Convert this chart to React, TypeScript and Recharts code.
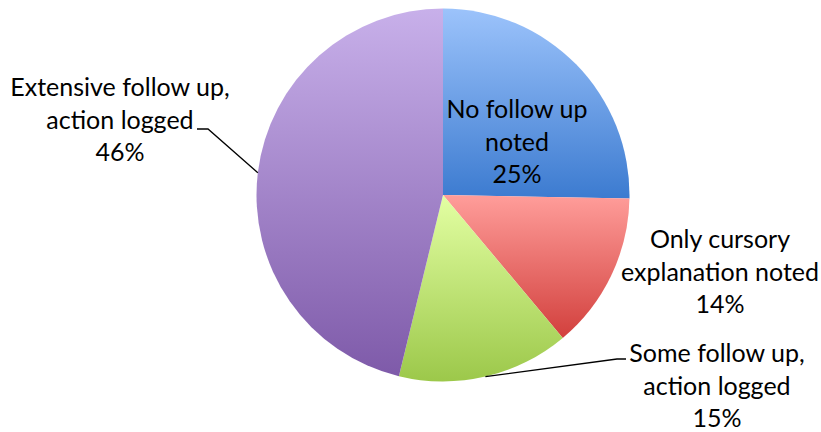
import React from "react";
import { PieChart, Pie, Cell } from "recharts";

// slice shares (labels show rounded percents)
const categories = [
    ["No follow up", "noted"],
    ["Only cursory", "explanation noted"],
    ["Some follow up,", "action logged"],
    ["Extensive follow up,", "action logged"],
];
const shares = [25.3, 13.6, 14.9, 46.2];
const percentLabels = ["25%", "14%", "15%", "46%"];

const gradients = [
    ["#9cc3fb", "#3c7bd0"],
    ["#ff9d9a", "#d2403d"],
    ["#e3ffa3", "#9cc84a"],
    ["#c8b0ea", "#7e5aa9"],
];

// label placement, relative to the pie centre: first baseline offset, optional leader elbow
const labelLayout = [
    { dx: 74, dy: -77, line: null },
    { dx: 277, dy: 53, line: null },
    { dx: 274, dy: 167, line: { ex: 174, ey: 164, tx: 183 } },
    { dx: -323, dy: -99, line: { ex: -235, ey: -66, tx: -246 } },
];

const data = shares.map((v, i) => ({ name: categories[i].join(" "), value: v }));

const RAD = Math.PI / 180;
const LINE_H = 32.5;

function renderLabel(props: any) {
    const { cx, cy, midAngle, outerRadius, index } = props;
    const lay = labelLayout[index];
    const x = cx + lay.dx;
    const y = cy + lay.dy;
    const lines = [...categories[index], percentLabels[index]];
    let leader = null;
    if (lay.line) {
        const sx = cx + outerRadius * Math.cos(-midAngle * RAD);
        const sy = cy + outerRadius * Math.sin(-midAngle * RAD);
        const pts = `${sx},${sy} ${cx + lay.line.ex},${cy + lay.line.ey} ${cx + lay.line.tx},${cy + lay.line.ey}`;
        leader = <polyline points={pts} fill="none" stroke="#000" strokeWidth={1.3} />;
    }
    return (
        <g key={`lbl-${index}`}>
            {leader}
            <text x={x} y={y} textAnchor="middle" fill="#000" fontFamily="Lato, 'Open Sans', sans-serif" fontSize={25}>
                {lines.map((t, i) => (
                    <tspan key={i} x={x} y={y + i * LINE_H}>{t}</tspan>
                ))}
            </text>
        </g>
    );
}

export default function App() {
    return (
        <div style={{ position: "absolute", left: 0, top: 0, width: 821, height: 432, background: "#fff" }}>
            <PieChart width={821} height={432} margin={{ top: 0, right: 0, bottom: 0, left: 0 }}>
                <defs>
                    {gradients.map((g, i) => (
                        <linearGradient key={i} id={`grad${i}`} x1="0" y1="0" x2="0" y2="1">
                            <stop offset="0%" stopColor={g[0]} />
                            <stop offset="100%" stopColor={g[1]} />
                        </linearGradient>
                    ))}
                </defs>
                <Pie
                    data={data}
                    dataKey="value"
                    cx={443}
                    cy={195}
                    outerRadius={186.5}
                    startAngle={90}
                    endAngle={-270}
                    stroke="none"
                    label={renderLabel}
                    labelLine={false}
                    isAnimationActive={false}
                >
                    {data.map((_, i) => (
                        <Cell key={i} fill={`url(#grad${i})`} />
                    ))}
                </Pie>
            </PieChart>
        </div>
    );
}
